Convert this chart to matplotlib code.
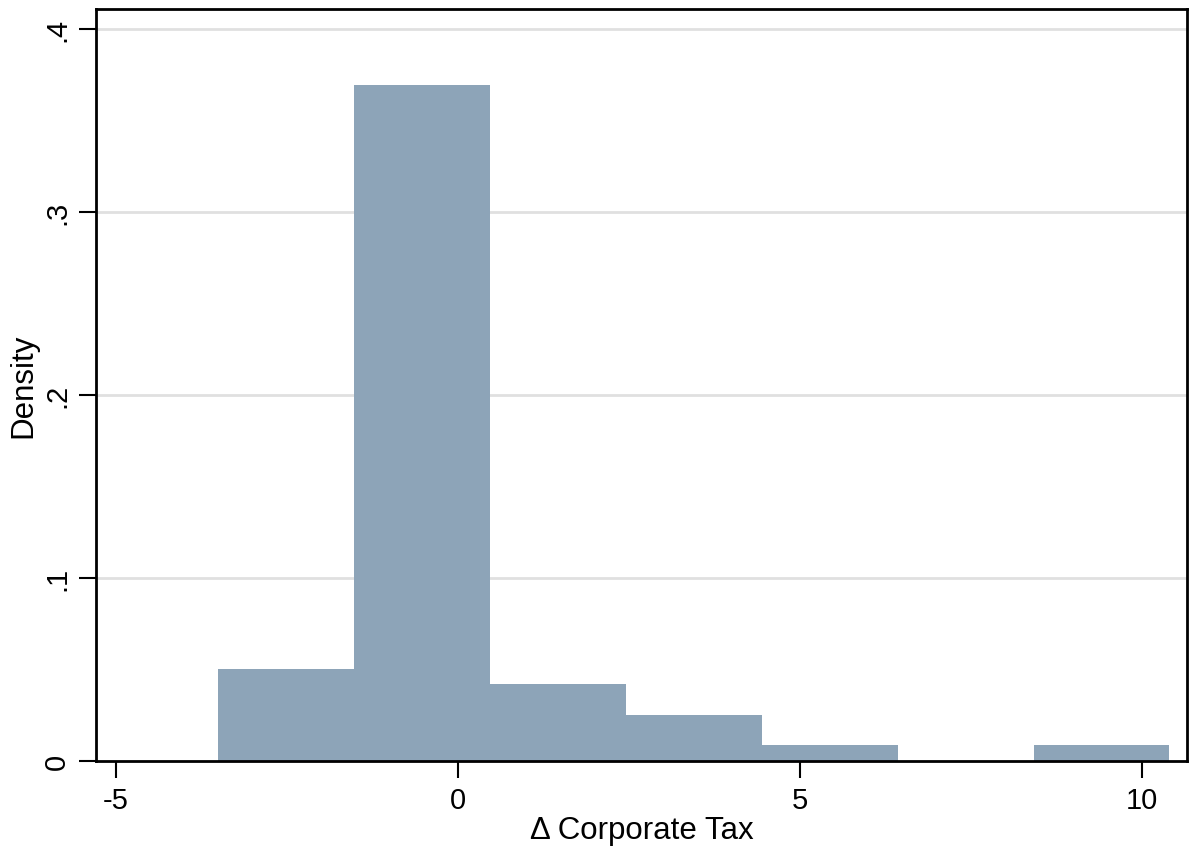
import matplotlib

matplotlib.use("Agg")
import matplotlib.pyplot as plt
import numpy as np

# histogram of the change in corporate tax rate (density scale)
bin_edges = [-3.51, -1.52, 0.47, 2.46, 4.45, 6.44, 8.42, 10.40]
density = [0.0502, 0.3694, 0.0420, 0.0251, 0.0087, 0.0, 0.0087]

x_ticks = [-5, 0, 5, 10]
y_ticks = [0, 0.1, 0.2, 0.3, 0.4]
y_tick_labels = ["0", ".1", ".2", ".3", ".4"]

plt.rcParams["font.family"] = ["Liberation Sans", "DejaVu Sans"]
plt.rcParams["axes.unicode_minus"] = False

fig = plt.figure(figsize=(11.91, 8.53), dpi=100)
ax = fig.add_axes([0.0806, 0.1067, 0.9160, 0.8816])

edges = np.array(bin_edges)
ax.bar(edges[:-1], density, width=np.diff(edges), align="edge",
       color="#8DA4B8", edgecolor="none", zorder=2)

ax.set_xlim(-5.29, 10.66)
ax.set_ylim(0, 0.411)
ax.set_xticks(x_ticks)
ax.set_yticks(y_ticks)
ax.set_yticklabels(y_tick_labels, rotation=90, va="center")

for y in y_ticks[1:]:
    ax.axhline(y, color="#E0E0E0", lw=2, zorder=1)

for s in ax.spines.values():
    s.set_linewidth(2)
    s.set_color("black")

ax.tick_params(axis="both", direction="out", length=12, width=1.5,
               labelsize=21, pad=6)
ax.set_xlabel("Δ Corporate Tax", fontsize=22.5, labelpad=1)
ax.set_ylabel("Density", fontsize=22.5, labelpad=3)

fig.savefig("out.png", dpi=100)
